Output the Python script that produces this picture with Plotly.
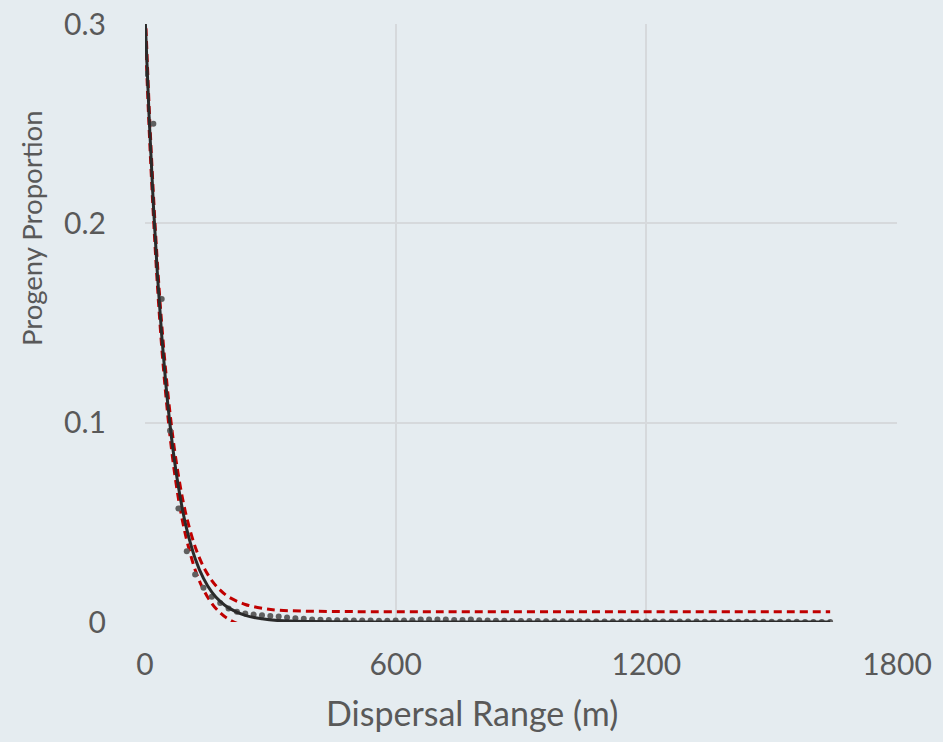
import plotly.graph_objects as go

# Observed progeny proportion, every 20 m from 0 to 1640 m
obs_x = list(range(0, 1660, 20))
obs_y = [
    0.275, 0.250, 0.162, 0.096, 0.057, 0.0355, 0.0238, 0.0172, 0.0127, 0.0095,
    0.0068, 0.0052, 0.0043, 0.0037, 0.0034, 0.0030, 0.0027, 0.0023, 0.0019, 0.0016,
    0.0013, 0.0011, 0.0010, 0.0009, 0.0008, 0.0008, 0.0007, 0.0007, 0.0006, 0.0006,
    0.0007, 0.0008, 0.0009, 0.0012, 0.0013, 0.0013, 0.0012, 0.0010, 0.0010, 0.0012,
    0.0009, 0.0007, 0.0006, 0.0006, 0.0005, 0.0005, 0.0005, 0.0005, 0.0004, 0.0004,
    0.0004, 0.0004, 0.0004, 0.0003, 0.0003, 0.0003, 0.0003, 0.0003, 0.0003, 0.0002,
    0.0002, 0.0002, 0.0002, 0.0002, 0.0002, 0.0002, 0.0002, 0.0001, 0.0001, 0.0001,
    0.0001, 0.0001, 0.0001, 0.0001, 0.0001, 0.0001, 0.0001, 0.0001, 0.0001, 0.0,
    0.0, 0.0, 0.0,
]

# Fitted curve and confidence bounds
fit_x = [0, 10, 20, 30, 40, 50, 60, 70, 80, 90, 100, 120, 140, 160, 180, 200,
         240, 280, 320, 400, 500, 700, 1000, 1300, 1640]
fit_y = [0.305, 0.2527, 0.2094, 0.1735, 0.1438, 0.1191, 0.0987, 0.0818, 0.0678,
         0.0561, 0.0465, 0.0319, 0.0219, 0.0150, 0.0103, 0.0071, 0.0033, 0.0016,
         0.0007, 0.0002, 0.0, 0.0, 0.0, 0.0, 0.0]
upper_y = [0.311, 0.258, 0.215, 0.179, 0.1495, 0.125, 0.1045, 0.0875, 0.0735,
           0.0618, 0.0523, 0.0378, 0.0277, 0.0208, 0.0160, 0.0126, 0.0088, 0.0069,
           0.0059, 0.0054, 0.0052, 0.0052, 0.0052, 0.0052, 0.0052]
lower_y = [0.299, 0.247, 0.204, 0.168, 0.138, 0.1135, 0.093, 0.076, 0.062,
           0.0505, 0.041, 0.0262, 0.0162, 0.0093, 0.0046, 0.0014, -0.0022, -0.0039,
           -0.0047, -0.0051, -0.0052, -0.0052, -0.0052, -0.0052, -0.0052]

x_ticks = [0, 600, 1200, 1800]
y_ticks = [0, 0.1, 0.2, 0.3]
y_tick_text = ["0", "0.1", "0.2", "0.3"]

BG = "#E5ECF0"
TXT = "#595959"
GRID = "#D6D9DC"
FONT = "Lato"

L, T, PW, PH = 145, 24, 752, 598

fig = go.Figure()
fig.add_trace(go.Scatter(x=fit_x, y=upper_y, mode="lines", line_shape="spline",
                         line=dict(color="#C00000", width=3, dash="8px,5px"),
                         showlegend=False))
fig.add_trace(go.Scatter(x=fit_x, y=lower_y, mode="lines", line_shape="spline",
                         line=dict(color="#C00000", width=3, dash="8px,5px"),
                         showlegend=False))
fig.add_trace(go.Scatter(x=obs_x, y=obs_y, mode="markers",
                         marker=dict(color="#5F5F5F", size=6),
                         showlegend=False))
fig.add_trace(go.Scatter(x=fit_x, y=fit_y, mode="lines", line_shape="spline",
                         line=dict(color="#2A2A2A", width=3),
                         showlegend=False))

fig.update_layout(
    width=943, height=742,
    margin=dict(l=L, r=943 - L - PW, t=T, b=742 - T - PH, autoexpand=False),
    paper_bgcolor=BG, plot_bgcolor=BG,
    font=dict(family=FONT, size=30, color=TXT),
    xaxis=dict(range=[0, 1800], tickvals=x_ticks, showgrid=True, gridcolor=GRID,
               gridwidth=1.5, zeroline=False, showline=False, automargin=False,
               ticklabeloverflow="allow",
               ticklabelstandoff=22, tickfont=dict(size=30, color=TXT)),
    yaxis=dict(range=[0, 0.3], tickvals=y_ticks, ticktext=y_tick_text,
               showgrid=True, gridcolor=GRID, gridwidth=1.5, zeroline=False,
               showline=False, ticklabelstandoff=38, ticklabeloverflow="allow",
               automargin=False, tickfont=dict(size=30, color=TXT)),
    annotations=[
        dict(text="Dispersal Range (m)", xref="paper", yref="paper",
             x=(472 - 145) / PW, y=(622 - 712) / PH, xanchor="center",
             yanchor="middle", showarrow=False, font=dict(size=34, color=TXT)),
        dict(text="Progeny Proportion", xref="paper", yref="paper",
             x=(31 - 145) / PW, y=(622 - 228) / PH, xanchor="center",
             yanchor="middle", textangle=-90, showarrow=False,
             font=dict(size=27.5, color=TXT)),
    ],
)

fig.write_html("out.html",
               config={"displayModeBar": False},
               post_script="document.body.style.margin='0px';"
                           "document.body.style.background='" + BG + "';")
